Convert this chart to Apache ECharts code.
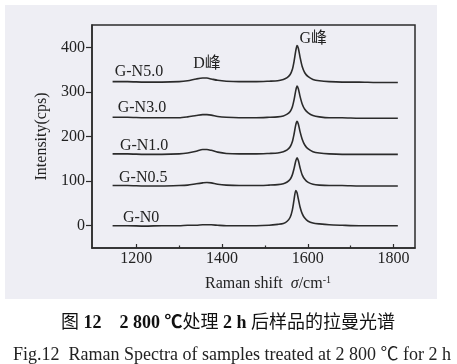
<!DOCTYPE html>
<html><head><meta charset="utf-8">
<script src="https://cdn.jsdelivr.net/npm/echarts@6/dist/echarts.min.js"></script>
<style>html,body{margin:0;padding:0;background:#fff}#c{width:457px;height:364px}</style>
</head><body><div id="c"></div>
<script>
// Raman shift (cm^-1) sample positions
const ramanShift = [1145,1180,1220,1260,1300,1320,1340,1355,1365,1375,1390,1410,1440,1480,1510,1530,1543,1552,1559,1564,1568,1572,1575,1578,1582,1587,1593,1601,1612,1627,1650,1680,1720,1760,1810];
// Intensity (cps) of each sample, offset as in the figure
const gN0  = [0,0,-1,0,0,1,1,2,2,2,1,0,0,0,1,3,5,10,19,35,58,79,74,60,42,27,17,10,6,4,2,1,0,0,0];
const gN05 = [90,90,89,89,90,91,94,96,97,96,93,91,90,90,91,92,94,98,104,114,128,145,152,146,130,114,104,97,93,91,90,90,89,89,89];
const gN10 = [161,161,160,160,161,163,167,171,171,169,165,162,161,161,162,163,166,170,177,188,205,226,234,228,211,194,181,172,166,163,161,160,160,160,160];
const gN30 = [243,243,242,242,242,244,247,249,249,248,245,243,242,242,243,244,246,250,256,266,282,303,313,307,290,273,261,253,247,244,242,242,241,241,241];
const gN50 = [323,323,322,322,323,325,329,331,331,329,326,324,323,323,324,325,328,332,339,350,368,392,404,398,378,357,343,334,328,325,323,322,322,321,321];
const seriesNames = ['G-N0','G-N0.5','G-N1.0','G-N3.0','G-N5.0'];
const seriesValues = [gN0, gN05, gN10, gN30, gN50];
const yTickValues = [0,100,200,300,400];
const xTickValues = [1200,1400,1600,1800];
const xMinorTickValues = [1300,1500,1700];
// label anchors in data coordinates
const seriesLabelAnchors = [[1169,18],[1160,108],[1162,180],[1157,265],[1150,345]];
const peakNotes = [{text:'D峰', at:[1365,364]}, {text:'G峰', at:[1613,418]}];

const FONT = '"Liberation Serif","Noto Sans CJK SC",serif';
const chart = echarts.init(document.getElementById('c'), null, {renderer:'canvas'});
const lineColor = '#2b2b2b';
const option = {
  animation:false,
  backgroundColor:'#ffffff',
  grid:{left:92,right:42,top:25,bottom:116,show:true,borderColor:'#2b2b2b',borderWidth:1.5,backgroundColor:'transparent'},
  xAxis:[{
    type:'value',min:1097,max:1850,
    axisLine:{show:true,onZero:false,lineStyle:{color:'#2b2b2b',width:1.5}},
    axisTick:{show:true,inside:true,length:4,customValues:xTickValues,lineStyle:{color:'#2b2b2b',width:1.2}},
    axisLabel:{show:true,customValues:xTickValues,margin:3,color:'#222',fontFamily:FONT,fontSize:16,formatter:v=>String(v)},
    splitLine:{show:false}
  },{
    type:'value',min:1097,max:1850,position:'bottom',
    axisLine:{show:false,onZero:false},
    axisTick:{show:true,inside:true,length:2.5,customValues:xMinorTickValues,lineStyle:{color:'#2b2b2b',width:1.2}},
    axisLabel:{show:false},splitLine:{show:false}
  }],
  yAxis:{
    type:'value',min:-50,max:450,
    name:'Intensity(cps)',nameLocation:'middle',nameGap:40,
    nameTextStyle:{fontFamily:FONT,fontSize:16,color:'#222'},
    axisLine:{show:true,onZero:false,lineStyle:{color:'#2b2b2b',width:1.5}},
    axisTick:{show:true,inside:false,length:6,customValues:yTickValues,lineStyle:{color:'#2b2b2b',width:1.2}},
    axisLabel:{show:true,customValues:yTickValues,margin:7,color:'#222',fontFamily:FONT,fontSize:16,formatter:v=>String(v)},
    splitLine:{show:false}
  },
  series: seriesNames.map((n,k)=>({
    name:n,type:'line',xAxisIndex:0,showSymbol:false,smooth:0.25,
    lineStyle:{color:lineColor,width:1.6},
    data: ramanShift.map((x,i)=>[x,seriesValues[k][i]])
  }))
};
chart.setOption(option);

const g = [{type:'rect',z:-10,silent:true,shape:{x:5,y:5,width:432,height:294},style:{fill:'#eeeef4'}}];
seriesNames.forEach((n,k)=>{
  const p = chart.convertToPixel({gridIndex:0}, seriesLabelAnchors[k]);
  g.push({type:'text',x:p[0],y:p[1],style:{text:n,font:'16px '+FONT,fill:'#222',align:'left',verticalAlign:'middle'}});
});
peakNotes.forEach(a=>{
  const p = chart.convertToPixel({gridIndex:0}, a.at);
  g.push({type:'text',x:p[0],y:p[1],style:{text:a.text,font:'16px '+FONT,fill:'#222',align:'center',verticalAlign:'middle'}});
});
g.push({type:'text',x:268,y:284,style:{
  text:'{a|Raman shift  }{i|σ}{a|/cm}{s|-1}',align:'center',verticalAlign:'middle',
  rich:{a:{fontFamily:FONT,fontSize:16,fill:'#222',lineHeight:18},i:{fontFamily:FONT,fontSize:16,fontStyle:'italic',fill:'#222',lineHeight:18},s:{fontFamily:FONT,fontSize:10,fill:'#222',verticalAlign:'top',lineHeight:18}}
}});
g.push({type:'text',x:228,y:323,style:{
  text:'{n|图 }{b|12}{n|    }{b|2 800 ℃}{n|处理 }{b|2 h}{n| 后样品的拉曼光谱}',align:'center',verticalAlign:'middle',
  rich:{n:{fontFamily:FONT,fontSize:18,fill:'#111'},b:{fontFamily:FONT,fontSize:18,fontWeight:'bold',fill:'#111'}}
}});
g.push({type:'text',x:232,y:355,style:{
  text:'Fig.12  Raman Spectra of samples treated at 2 800 ℃ for 2 h',align:'center',verticalAlign:'middle',
  font:'18px '+FONT,fill:'#222'
}});
chart.setOption({graphic:g});
</script></body></html>
